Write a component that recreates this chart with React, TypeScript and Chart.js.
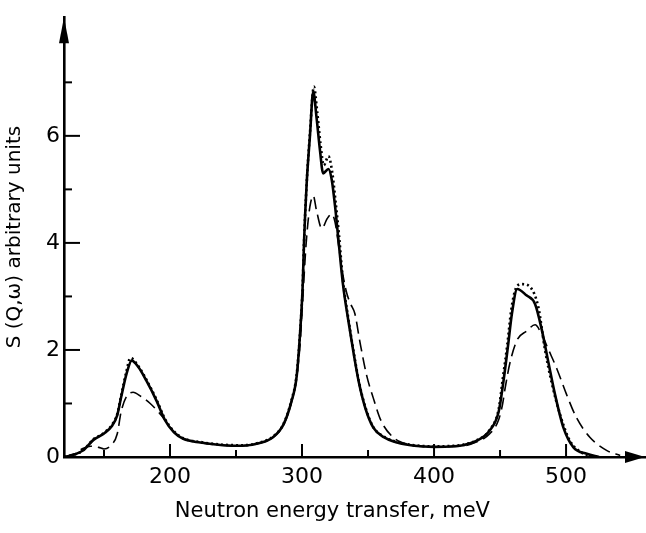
import React, { useEffect, useRef } from "react";
import { Chart, registerables } from "chart.js";

Chart.register(...registerables);

// ---- data ----
const solidE = [120, 128, 134, 142, 150, 156, 160, 163, 167, 171, 176, 182, 190, 196, 203, 210, 223, 240, 255, 268, 278, 286, 292, 296, 299, 300.5, 301.5, 303.5, 306, 308.5, 311, 313.6, 316, 320, 322.5, 325, 327.5, 331, 335, 339, 343, 348, 354, 362, 372, 385, 400, 415, 422, 432, 442, 449, 452.5, 456, 459, 463, 470, 476.5, 481.6, 486.6, 491.7, 498, 505.6, 515.7, 525];
const solidV = [0, 0.05, 0.12, 0.32, 0.44, 0.58, 0.78, 1.12, 1.55, 1.8, 1.68, 1.43, 1.04, 0.7, 0.46, 0.34, 0.27, 0.22, 0.21, 0.26, 0.37, 0.61, 1.04, 1.52, 2.5, 3.2, 4.0, 5.1, 6.0, 6.83, 6.34, 5.73, 5.3, 5.38, 5.18, 4.69, 4.08, 3.23, 2.56, 1.95, 1.4, 0.91, 0.55, 0.37, 0.27, 0.21, 0.19, 0.2, 0.22, 0.3, 0.49, 0.85, 1.4, 2.07, 2.68, 3.14, 3.02, 2.86, 2.38, 1.77, 1.16, 0.55, 0.18, 0.06, 0];

const dottedE = [120, 128, 134, 142, 150, 156, 160, 163, 167, 170, 176, 182, 190, 196, 203, 210, 223, 240, 255, 268, 278, 286, 292, 296, 299, 300.5, 301.5, 303.5, 306, 309, 311.5, 314, 316.5, 320, 323, 325.5, 328, 331, 335, 339, 343, 348, 354, 362, 372, 385, 400, 415, 422, 432, 442, 449, 452, 455.5, 458.5, 462, 466.5, 473, 479, 484, 489, 495.5, 503, 512, 520];
const dottedV = [0, 0.05, 0.12, 0.33, 0.45, 0.6, 0.8, 1.15, 1.6, 1.85, 1.7, 1.45, 1.06, 0.72, 0.48, 0.35, 0.28, 0.23, 0.22, 0.27, 0.38, 0.62, 1.06, 1.55, 2.5, 3.2, 4.0, 5.1, 6.05, 6.92, 6.45, 5.85, 5.45, 5.62, 5.3, 4.75, 4.15, 3.3, 2.6, 1.98, 1.42, 0.93, 0.56, 0.38, 0.28, 0.22, 0.2, 0.21, 0.23, 0.31, 0.5, 0.9, 1.45, 2.1, 2.75, 3.15, 3.23, 3.17, 2.8, 2.01, 1.4, 0.79, 0.3, 0.08, 0];

const dashedE = [120, 128, 134, 140, 146, 150, 155, 160, 163, 167, 172, 178, 185, 192, 196, 203, 210, 223, 240, 255, 268, 278, 286, 292, 296, 298.5, 300, 301.5, 303, 305, 306.5, 308.5, 311, 315, 319, 322.5, 325, 328, 331, 334, 337, 340, 344, 349, 354, 360, 369, 380, 400, 420, 432, 442, 449, 452, 453.8, 457.6, 463, 470, 476.5, 481.6, 486.6, 493, 500.5, 508, 518, 531, 541];
const dashedV = [0, 0.06, 0.16, 0.2, 0.18, 0.15, 0.21, 0.43, 0.85, 1.13, 1.21, 1.13, 1.0, 0.82, 0.7, 0.47, 0.35, 0.27, 0.22, 0.21, 0.26, 0.37, 0.6, 1.02, 1.5, 2.1, 2.7, 3.35, 3.95, 4.5, 4.75, 4.88, 4.6, 4.27, 4.45, 4.54, 4.39, 3.9, 3.4, 3.05, 2.85, 2.68, 2.13, 1.52, 1.1, 0.67, 0.37, 0.24, 0.19, 0.2, 0.28, 0.43, 0.7, 1.0, 1.28, 1.77, 2.19, 2.35, 2.47, 2.29, 2.01, 1.65, 1.16, 0.73, 0.37, 0.12, 0.03];

const xMajorTicks = [200, 300, 400, 500];
const xMinorTicks = [150, 250, 350, 450];
const yMajorTicks = [0, 2, 4, 6];
const yMinorTicks = [1, 3, 5, 7];

const xTitle = "Neutron energy transfer, meV";
const yTitle = "S (Q,ω) arbitrary units";

const FONT = "'DejaVu Sans', sans-serif";

const toPoints = (xs: number[], ys: number[]) => xs.map((x, i) => ({ x, y: ys[i] }));

const axisDecor = {
  id: "axisDecor",
  afterDraw(chart: any) {
    const { ctx, chartArea, scales } = chart;
    const xs = scales.x;
    const ys = scales.y;
    const left = chartArea.left;
    const bottom = chartArea.bottom;
    ctx.save();
    ctx.strokeStyle = "#000";
    ctx.fillStyle = "#000";
    ctx.lineWidth = 2;
    const seg = (x1: number, y1: number, x2: number, y2: number) => {
      ctx.beginPath();
      ctx.moveTo(x1, y1);
      ctx.lineTo(x2, y2);
      ctx.stroke();
    };
    yMajorTicks.forEach((v) => {
      if (v === 0) return;
      const p = ys.getPixelForValue(v);
      seg(left, p, left + 16, p);
    });
    yMinorTicks.forEach((v) => {
      const p = ys.getPixelForValue(v);
      seg(left, p, left + 8, p);
    });
    xMajorTicks.forEach((v) => {
      const p = xs.getPixelForValue(v);
      seg(p, bottom, p, bottom - 13);
    });
    xMinorTicks.forEach((v) => {
      const p = xs.getPixelForValue(v);
      seg(p, bottom, p, bottom - 7);
    });
    // arrows
    const top = chartArea.top;
    ctx.beginPath();
    ctx.moveTo(left, top);
    ctx.lineTo(left - 5, top + 26);
    ctx.lineTo(left + 5, top + 26);
    ctx.closePath();
    ctx.fill();
    const right = chartArea.right;
    ctx.beginPath();
    ctx.moveTo(right, bottom);
    ctx.lineTo(right - 20, bottom - 6);
    ctx.lineTo(right - 20, bottom + 6);
    ctx.closePath();
    ctx.fill();
    // x axis title (centred a little left of the axis centre, as in the original)
    ctx.font = `21px ${FONT}`;
    ctx.textAlign = "center";
    ctx.textBaseline = "middle";
    ctx.fillText(xTitle, xs.getPixelForValue(323), 512);
    ctx.restore();
  },
};

export default function App() {
  const ref = useRef<HTMLCanvasElement>(null);
  useEffect(() => {
    document.body.style.margin = "0";
    const canvas = ref.current!;
    const chart = new Chart(canvas, {
      type: "line",
      data: {
        datasets: [
          {
            label: "solid",
            data: toPoints(solidE, solidV),
            borderColor: "#000",
            borderWidth: 2.6,
            pointRadius: 0,
            cubicInterpolationMode: "monotone",
            fill: false,
          },
          {
            label: "dotted",
            data: toPoints(dottedE, dottedV),
            borderColor: "#000",
            borderWidth: 2.6,
            borderDash: [2, 3],
            pointRadius: 0,
            cubicInterpolationMode: "monotone",
            fill: false,
          },
          {
            label: "dashed",
            data: toPoints(dashedE, dashedV),
            borderColor: "#000",
            borderWidth: 1.6,
            borderDash: [12, 6],
            pointRadius: 0,
            cubicInterpolationMode: "monotone",
            fill: false,
          },
        ],
      },
      options: {
        responsive: false,
        animation: false,
        layout: { padding: { top: 7, right: 1, left: 0, bottom: 0 } },
        plugins: { legend: { display: false }, tooltip: { enabled: false } },
        scales: {
          x: {
            type: "linear",
            min: 119.7,
            max: 559.8,
            grid: { display: false, drawTicks: false },
            border: { display: true, color: "#000", width: 2.6 },
            afterBuildTicks: (s: any) => {
              s.ticks = xMajorTicks.map((v) => ({ value: v }));
            },
            afterFit: (s: any) => {
              s.height = 76;
            },
            ticks: {
              color: "#000",
              padding: 7,
              font: { family: FONT, size: 22 },
              callback: (v: any) => String(v),
            },
            title: { display: false, text: xTitle },
          },
          y: {
            type: "linear",
            min: 0,
            max: 8.217,
            grid: { display: false, drawTicks: false },
            border: { display: true, color: "#000", width: 2.6 },
            afterBuildTicks: (s: any) => {
              s.ticks = yMajorTicks.map((v) => ({ value: v }));
            },
            afterFit: (s: any) => {
              s.width = 64;
            },
            ticks: {
              color: "#000",
              padding: 4,
              font: { family: FONT, size: 22 },
              callback: (v: any) => String(v),
            },
            title: {
              display: true,
              text: yTitle,
              color: "#000",
              font: { family: FONT, size: 20 },
              padding: { top: 3, bottom: 0 },
            },
          },
        },
      },
      plugins: [axisDecor],
    });
    return () => chart.destroy();
  }, []);
  return (
    <div style={{ width: 646, height: 533 }}>
      <canvas ref={ref} width={646} height={533} />
    </div>
  );
}
